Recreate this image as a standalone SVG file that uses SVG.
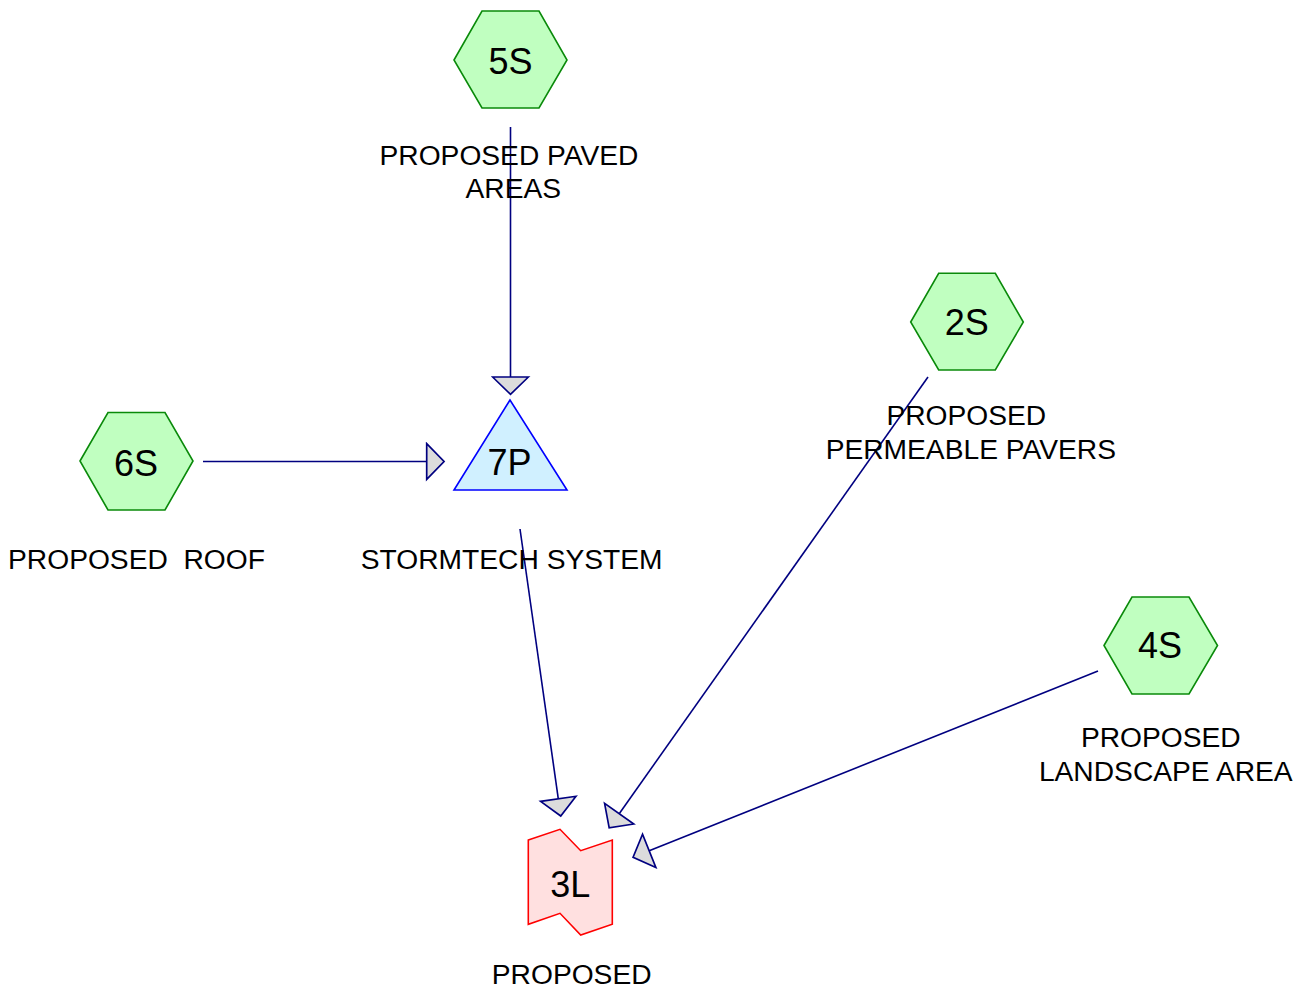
<svg xmlns="http://www.w3.org/2000/svg" width="1307" height="992" viewBox="0 0 1307 992">
<style>
text{font-family:"Liberation Sans",Arial,sans-serif;fill:#000}
.id{font-size:36px;text-anchor:middle}
.lbl{font-size:28.2px;text-anchor:middle}
.hex{fill:#c0ffc0;stroke:#0a8a0a;stroke-width:1.6}
.pond{fill:#d0f0ff;stroke:#0000ff;stroke-width:1.6}
.link{fill:#ffe0e0;stroke:#ff0000;stroke-width:1.6}
.conn{stroke:#000080;stroke-width:1.6;fill:none;marker-end:url(#arr)}
</style>
<defs>
<marker id="arr" markerUnits="userSpaceOnUse" markerWidth="40" markerHeight="40" viewBox="-2 -19 22 38" refX="0" refY="0" orient="auto">
<path d="M0,-17 L16.5,0 L0,17 Z" fill="#dcdcdc" stroke="#000080" stroke-width="1.6"/>
</marker>
</defs>
<rect width="1307" height="992" fill="#fff"/>
<g id="connectors">
<line class="conn" x1="510.5" y1="127" x2="510.5" y2="377"/>
<line class="conn" x1="203" y1="461.5" x2="426.7" y2="461.5"/>
<line class="conn" x1="520" y1="529" x2="558.3" y2="798.8"/>
<line class="conn" x1="928" y1="377" x2="619.2" y2="813.7"/>
<line class="conn" x1="1098" y1="671" x2="649.2" y2="850.8"/>
</g>
<g id="n5S">
<polygon class="hex" points="454,60 482,11 539,11 567,60 539,108 482,108"/>
<text class="id" x="510.5" y="74">5S</text>
<text class="lbl" x="509" y="165">PROPOSED PAVED</text>
<text class="lbl" x="513.3" y="197.7">AREAS</text>
</g>
<g id="n6S">
<polygon class="hex" points="80,461 108,412.5 165,412.5 193,461 165,510 108,510"/>
<text class="id" x="136" y="475.5">6S</text>
<text class="lbl" x="136.5" y="569" xml:space="preserve">PROPOSED  ROOF</text>
</g>
<g id="n7P">
<polygon class="pond" points="510,400 454,490 567,490"/>
<text class="id" x="509.5" y="475">7P</text>
<text class="lbl" x="511.7" y="569">STORMTECH SYSTEM</text>
</g>
<g id="n2S">
<polygon class="hex" points="910.7,322 938.7,273.3 995.3,273.3 1023.3,322 995.3,370 938.7,370"/>
<text class="id" x="966.7" y="335">2S</text>
<text class="lbl" x="966.3" y="424.5">PROPOSED</text>
<text class="lbl" x="970.8" y="458.5">PERMEABLE PAVERS</text>
</g>
<g id="n4S">
<polygon class="hex" points="1104,645.5 1132,597 1189,597 1217.5,645.5 1189,694 1132,694"/>
<text class="id" x="1160" y="658.3">4S</text>
<text class="lbl" x="1160.8" y="746.5">PROPOSED</text>
<text class="lbl" x="1165.8" y="780.5">LANDSCAPE AREA</text>
</g>
<g id="n3L">
<polygon class="link" points="528.3,840 560,829.3 580.7,850.7 612.3,840 612.3,924.3 580.7,935 560,913.3 528.3,924.3"/>
<text class="id" x="570.3" y="897">3L</text>
<text class="lbl" x="571.7" y="983.5">PROPOSED</text>
</g>
</svg>
